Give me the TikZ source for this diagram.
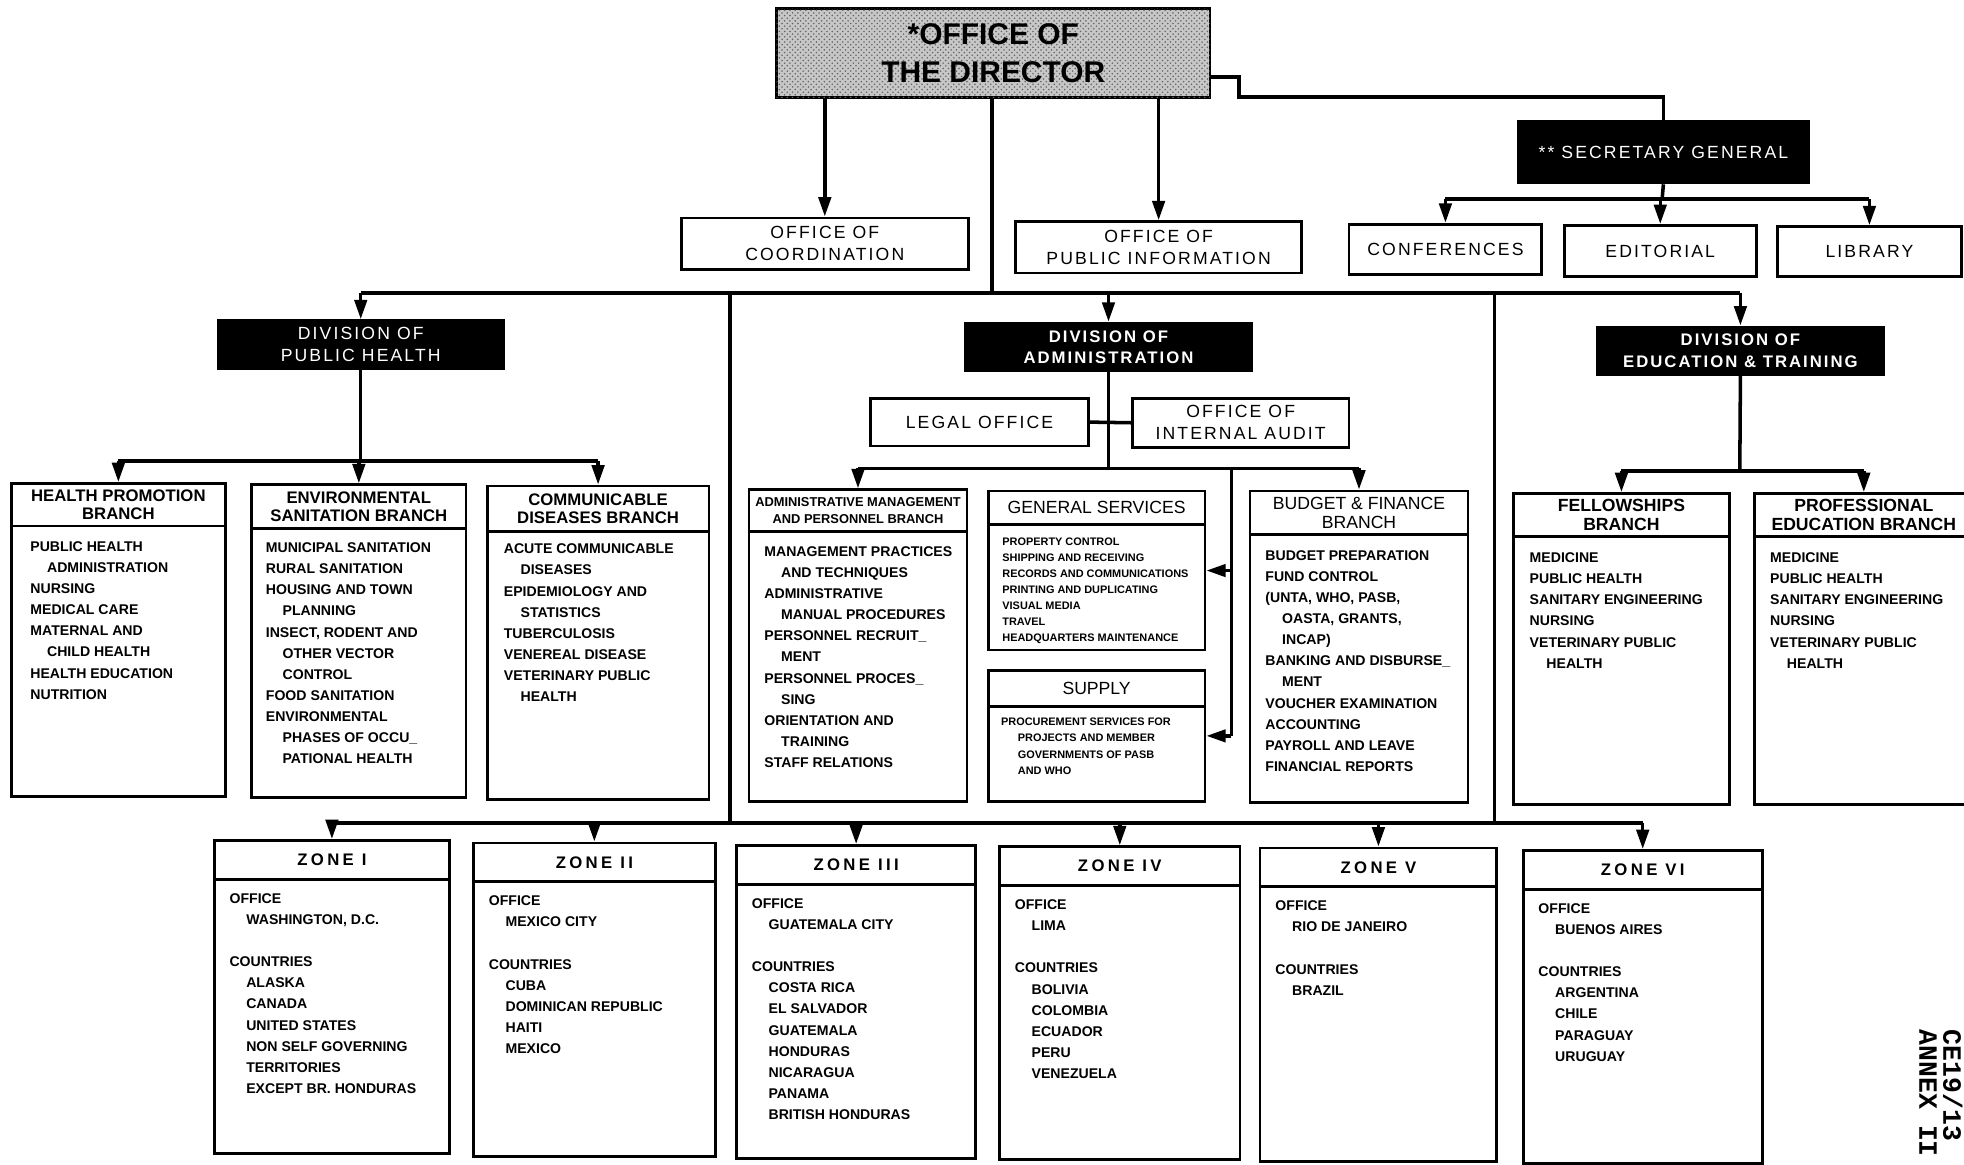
\documentclass[tikz,border=0pt]{standalone}
\usepackage{fontspec}
\setmainfont{Liberation Sans}
\newfontfamily\widefont[LetterSpace=12]{Liberation Sans}
\newfontfamily\zonefont[LetterSpace=20]{Liberation Sans}
\newfontfamily\typefont{Liberation Mono}
\usetikzlibrary{positioning,fit,arrows.meta,patterns}

\newcommand{\ind}{\hspace*{9.5pt}}

\tikzset{
  conn/.style={line width=2pt},
  arr/.style={line width=2pt, -{Triangle[width=7pt,length=11pt]}},
  box/.style={draw, line width=1.6pt, inner sep=0pt},
  division/.style={box, fill=black},
  office/.style={box, fill=white},
  boxtext/.style={inner sep=0pt, align=center},
  divtext/.style={boxtext, text=white, font=\widefont\fontsize{10}{12}\selectfont},
  officetext/.style={boxtext, font=\widefont\fontsize{10}{12.6}\selectfont},
  headtext/.style={boxtext, font=\bfseries\fontsize{9.5}{10}\selectfont},
  list/.style={inner sep=0pt, anchor=north west, align=left,
    font=\bfseries\fontsize{8}{12}\selectfont},
  smalllist/.style={list, font=\bfseries\fontsize{6.2}{9.1}\selectfont},
}

\begin{document}
\begin{tikzpicture}[x=0.025cm, y=-0.025cm]
\useasboundingbox (0,0) rectangle (1568,930);

% director and offices
\node[box, fit={(620,7) (966,78)}, fill=black!22,
  postaction={pattern=crosshatch dots, pattern color=black!60}] (dir) {};
\node[boxtext, font=\bfseries\fontsize{17}{22}\selectfont] (dir-l) at (dir) {*OFFICE OF\\THE DIRECTOR};
\node[office, fit={(544,174) (773,215)}] (coord) {};
\node[officetext] (coord-l) at (coord) {OFFICE OF\\COORDINATION};
\node[office, fit={(811,177) (1039,218)}] (opi) {};
\node[officetext] (opi-l) at (opi) {OFFICE OF\\PUBLIC INFORMATION};
\node[division, fit={(1212,97) (1444,146)}] (sg) {};
\node[divtext] (sg-l) at (sg) {** SECRETARY GENERAL};
\node[office, fit={(1077,179) (1231,219)}] (conf) {};
\node[officetext] (conf-l) at (conf) {CONFERENCES};
\node[office, fit={(1249,180) (1402,221)}] (edit) {};
\node[officetext] (edit-l) at (edit) {EDITORIAL};
\node[office, fit={(1419,181) (1566,221)}] (lib) {};
\node[officetext] (lib-l) at (lib) {LIBRARY};

\draw[arr] (coord.north |- dir.south) -- (coord.north);
\draw[arr] (opi.north |- dir.south) -- (opi.north);
\draw[conn] ([shift={(0,19)}]dir.east) -| ([shift={(22,35)}]dir.east) -| (sg.north);
\coordinate (sgbar) at (1327,159);
\draw[conn] (sg.south) -- (sgbar);
\draw[conn] (conf.north |- sgbar) -- (lib.north |- sgbar);
\foreach \b in {conf,edit,lib}
  \draw[arr] (\b.north |- sgbar) -- (\b.north);

% divisions
\node[division, fit={(174,256) (402,294)}] (dph) {};
\node[divtext] (dph-l) at (dph) {DIVISION OF\\PUBLIC HEALTH};
\node[division, fit={(771,258) (999,296)}] (da) {};
\node[divtext, font=\widefont\bfseries\fontsize{9.5}{12}\selectfont] (da-l) at (da) {DIVISION OF\\ADMINISTRATION};
\node[division, fit={(1275,261) (1504,299)}] (det) {};
\node[divtext, font=\widefont\bfseries\fontsize{9.5}{12}\selectfont] (det-l) at (det) {DIVISION OF\\EDUCATION \& TRAINING};

\coordinate (bus) at (792,234);
\draw[conn] (dir.south -| bus) -- (bus);
\draw[conn] (dph.north |- bus) -- (det.north |- bus);
\foreach \d in {dph,da,det}
  \draw[arr] (\d.north |- bus) -- (\d.north);

\coordinate (zbus) at (583,657);
\coordinate (zbusr) at (1193,657);
\draw[conn] (zbus |- bus) -- (zbus);
\draw[conn] (zbusr |- bus) -- (zbusr);

% public health branches
\node[box, fit={(9,386) (180,636)}] (hp) {};
\node[box, fit={(9,386) (180,420)}] (hp-h) {};
\node[headtext] (hp-l) at (hp-h) {HEALTH PROMOTION\\BRANCH};
\node[list] (hp-t) at (24,432) {PUBLIC HEALTH\\\ind ADMINISTRATION\\NURSING\\MEDICAL CARE\\MATERNAL AND\\\ind CHILD HEALTH\\HEALTH EDUCATION\\NUTRITION};

\node[box, fit={(201,387) (372,637)}] (es) {};
\node[box, fit={(201,387) (372,422)}] (es-h) {};
\node[headtext] (es-l) at (es-h) {ENVIRONMENTAL\\SANITATION BRANCH};
\node[list] (es-t) at (212,433) {MUNICIPAL SANITATION\\RURAL SANITATION\\HOUSING AND TOWN\\\ind PLANNING\\INSECT, RODENT AND\\\ind OTHER VECTOR\\\ind CONTROL\\FOOD SANITATION\\ENVIRONMENTAL\\\ind PHASES OF OCCU\_\\\ind PATIONAL HEALTH};

\node[box, fit={(389,388) (566,638)}] (cd) {};
\node[box, fit={(389,388) (566,424)}] (cd-h) {};
\node[headtext] (cd-l) at (cd-h) {COMMUNICABLE\\DISEASES BRANCH};
\node[list] (cd-t) at (402,434) {ACUTE COMMUNICABLE\\\ind DISEASES\\EPIDEMIOLOGY AND\\\ind STATISTICS\\TUBERCULOSIS\\VENEREAL DISEASE\\VETERINARY PUBLIC\\\ind HEALTH};

\coordinate (phbar) at (288,368);
\draw[conn] (dph.south) -- (phbar);
\draw[conn] (hp.north |- phbar) -- (cd.north |- phbar);
\foreach \b in {hp,es,cd}
  \draw[arr] (\b.north |- phbar) -- (\b.north);

% administration
\node[office, fit={(695,318) (869,356)}] (legal) {};
\node[officetext] (legal-l) at (legal) {LEGAL OFFICE};
\node[office, fit={(904,318) (1077,357)}] (audit) {};
\node[officetext] (audit-l) at (audit) {OFFICE OF\\INTERNAL AUDIT};

\node[box, fit={(598,391) (772,640)}] (am) {};
\node[box, fit={(598,391) (772,424)}] (am-h) {};
\node[headtext, font=\bfseries\fontsize{7.3}{10}\selectfont] (am-l) at (am-h) {ADMINISTRATIVE MANAGEMENT\\AND PERSONNEL BRANCH};
\node[list] (am-t) at (610,436) {MANAGEMENT PRACTICES\\\ind AND TECHNIQUES\\ADMINISTRATIVE\\\ind MANUAL PROCEDURES\\PERSONNEL RECRUIT\_\\\ind MENT\\PERSONNEL PROCES\_\\\ind SING\\ORIENTATION AND\\\ind TRAINING\\STAFF RELATIONS};

\node[box, fit={(789,392) (962,519)}] (gs) {};
\node[box, fit={(789,392) (962,419)}] (gs-h) {};
\node[headtext, font=\fontsize{10}{12}\selectfont] (gs-l) at (gs-h) {GENERAL SERVICES};
\node[smalllist] (gs-t) at (800,429) {PROPERTY CONTROL\\SHIPPING AND RECEIVING\\RECORDS AND COMMUNICATIONS\\PRINTING AND DUPLICATING\\VISUAL MEDIA\\TRAVEL\\HEADQUARTERS MAINTENANCE};

\node[box, fit={(789,535) (962,640)}] (su) {};
\node[box, fit={(789,535) (962,564)}] (su-h) {};
\node[headtext, font=\fontsize{10}{12}\selectfont] (su-l) at (su-h) {SUPPLY};
\node[smalllist, font=\bfseries\fontsize{6.2}{9.2}\selectfont] (su-t) at (799,573) {PROCUREMENT SERVICES FOR\\\ind PROJECTS AND MEMBER\\\ind GOVERNMENTS OF PASB\\\ind AND WHO};

\node[box, fit={(998,392) (1172,641)}] (bf) {};
\node[box, fit={(998,392) (1172,427)}] (bf-h) {};
\node[headtext, font=\fontsize{10}{10.5}\selectfont] (bf-l) at (bf-h) {BUDGET \& FINANCE\\BRANCH};
\node[list] (bf-t) at (1010,439) {BUDGET PREPARATION\\FUND CONTROL\\(UNTA, WHO, PASB,\\\ind OASTA, GRANTS,\\\ind INCAP)\\BANKING AND DISBURSE\_\\\ind MENT\\VOUCHER EXAMINATION\\ACCOUNTING\\PAYROLL AND LEAVE\\FINANCIAL REPORTS};

\coordinate (dabar) at (885,374);
\coordinate (gsline) at (983,374);
\draw[conn] (da.south) -- (dabar);
\draw[conn] (legal.east) -- (audit.west);
\draw[conn] (am.north |- dabar) -- (bf.north |- dabar);
\foreach \b in {am,bf}
  \draw[arr] (\b.north |- dabar) -- (\b.north);
\draw[conn] (gsline) -- (gsline |- su.east);
\draw[arr] (gsline |- gs.east) -- (gs.east);
\draw[arr] (gsline |- su.east) -- (su.east);

% education and training
\node[box, fit={(1208,394) (1381,642)}] (fe) {};
\node[box, fit={(1208,394) (1381,428)}] (fe-h) {};
\node[headtext, font=\bfseries\fontsize{10}{10.5}\selectfont] (fe-l) at (fe-h) {FELLOWSHIPS\\BRANCH};
\node[list] (fe-t) at (1221,441) {MEDICINE\\PUBLIC HEALTH\\SANITARY ENGINEERING\\NURSING\\VETERINARY PUBLIC\\\ind HEALTH};

\node[box, fit={(1401,394) (1575,642)}] (pe) {};
\node[box, fit={(1401,394) (1575,428)}] (pe-h) {};
\node[headtext, font=\bfseries\fontsize{10}{10.5}\selectfont] (pe-l) at (pe-h) {PROFESSIONAL\\EDUCATION BRANCH};
\node[list] (pe-t) at (1413,441) {MEDICINE\\PUBLIC HEALTH\\SANITARY ENGINEERING\\NURSING\\VETERINARY PUBLIC\\\ind HEALTH};

\coordinate (etbar) at (1389,376);
\draw[conn] (det.south) -- (etbar);
\draw[conn] (fe.north |- etbar) -- (pe.north |- etbar);
\foreach \b in {fe,pe}
  \draw[arr] (\b.north |- etbar) -- (\b.north);

% zones
\foreach \zi/\xa/\xb/\ya/\zname/\ztext in {
  1/171/359/671/I/{OFFICE\\\ind WASHINGTON, D.C.\\[12pt]COUNTRIES\\\ind ALASKA\\\ind CANADA\\\ind UNITED STATES\\\ind NON SELF GOVERNING\\\ind TERRITORIES\\\ind EXCEPT BR. HONDURAS},
  2/378/571/673/II/{OFFICE\\\ind MEXICO CITY\\[12pt]COUNTRIES\\\ind CUBA\\\ind DOMINICAN REPUBLIC\\\ind HAITI\\\ind MEXICO},
  3/588/779/675/III/{OFFICE\\\ind GUATEMALA CITY\\[12pt]COUNTRIES\\\ind COSTA RICA\\\ind EL SALVADOR\\\ind GUATEMALA\\\ind HONDURAS\\\ind NICARAGUA\\\ind PANAMA\\\ind BRITISH HONDURAS},
  4/798/990/676/IV/{OFFICE\\\ind LIMA\\[12pt]COUNTRIES\\\ind BOLIVIA\\\ind COLOMBIA\\\ind ECUADOR\\\ind PERU\\\ind VENEZUELA},
  5/1006/1195/677/V/{OFFICE\\\ind RIO DE JANEIRO\\[12pt]COUNTRIES\\\ind BRAZIL},
  6/1216/1407/679/VI/{OFFICE\\\ind BUENOS AIRES\\[12pt]COUNTRIES\\\ind ARGENTINA\\\ind CHILE\\\ind PARAGUAY\\\ind URUGUAY}}
{
  \node[box, fit={(\xa,\ya) (\xb,\ya+250)}] (z\zi) {};
  \node[box, fit={(\xa,\ya) (\xb,\ya+31)}] (z\zi-h) {};
  \node[headtext, font=\zonefont\bfseries\fontsize{9.5}{10}\selectfont] (z\zi-l) at (z\zi-h) {ZONE \zname};
  \node[list] (z\zi-t) at (\xa+12,\ya+42) {\ztext};
}
\draw[conn] (z1.north |- zbus) -- (z6.north |- zbus);
\foreach \zi in {1,...,6}
  \draw[arr] (z\zi.north |- zbus) -- (z\zi.north);

\node[rotate=-90, anchor=north west, align=left, inner sep=0pt,
  font=\typefont\bfseries\fontsize{15}{13.5}\selectfont] (annex) at (1567,822) {CE19/13\\ANNEX II};
\end{tikzpicture}
\end{document}
